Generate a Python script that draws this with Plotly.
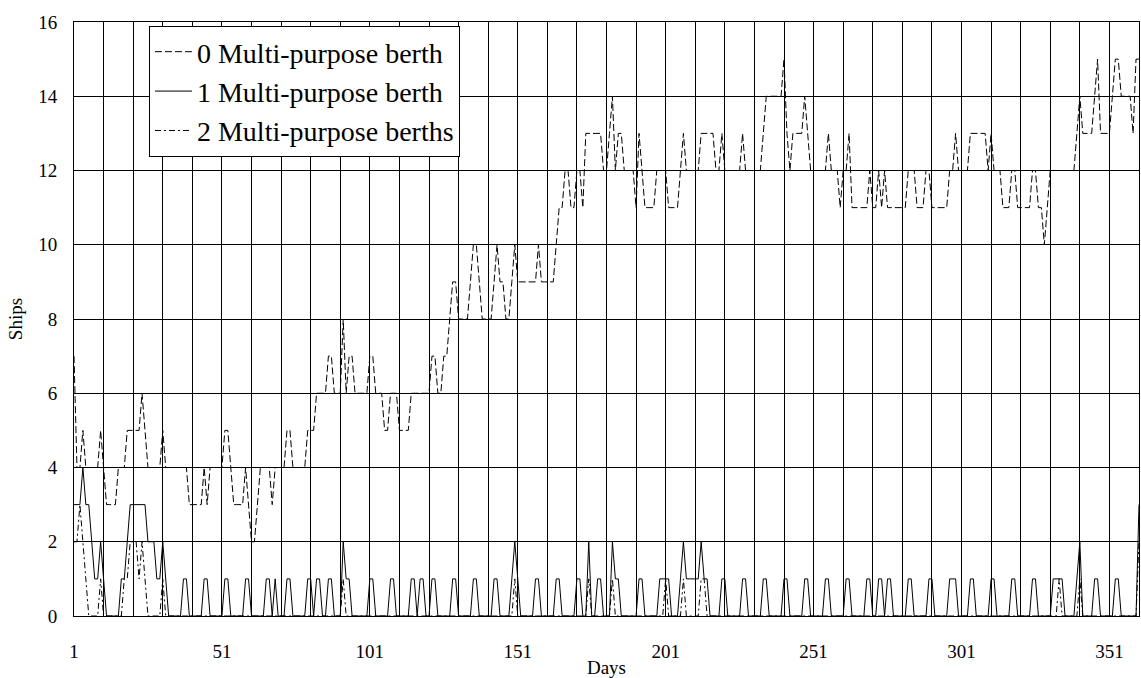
import plotly.graph_objects as go

days = list(range(1, 362))

berth0 = [
    7, 4, 4, 5, 4, 4, 4, 4, 4, 5,
    4, 3, 3, 3, 3, 4, 4, 4, 5, 5,
    5, 5, 5, 6, 5, 4, 4, 4, 4, 4,
    5, 4, 4, 4, 4, 4, 4, 4, 4, 3,
    3, 3, 3, 3, 4, 3, 4, 4, 4, 4,
    4, 5, 5, 4, 3, 3, 3, 3, 4, 3,
    2, 2, 3, 4, 4, 4, 4, 3, 4, 4,
    4, 4, 5, 5, 4, 4, 4, 4, 4, 5,
    5, 5, 6, 6, 6, 6, 7, 7, 6, 6,
    6, 8, 6, 7, 7, 6, 6, 6, 6, 6,
    7, 7, 6, 6, 6, 5, 5, 6, 6, 6,
    5, 5, 5, 5, 6, 6, 6, 6, 6, 6,
    6, 7, 7, 6, 6, 7, 7, 8, 9, 9,
    8, 8, 8, 8, 9, 10, 10, 9, 8, 8,
    8, 8, 9, 10, 9, 9, 8, 8, 9, 10,
    9, 9, 9, 9, 9, 9, 9, 10, 9, 9,
    9, 9, 9, 10, 11, 11, 12, 12, 11, 11,
    12, 12, 11, 13, 13, 13, 13, 13, 13, 12,
    12, 13, 14, 12, 13, 13, 12, 12, 12, 12,
    11, 13, 12, 11, 11, 11, 11, 12, 12, 12,
    12, 11, 11, 11, 11, 12, 13, 12, 12, 12,
    12, 12, 13, 13, 13, 13, 13, 12, 12, 13,
    12, 12, 12, 12, 12, 12, 13, 12, 12, 12,
    12, 12, 12, 13, 14, 14, 14, 14, 14, 14,
    15, 13, 12, 13, 13, 13, 13, 14, 13, 12,
    12, 12, 12, 12, 12, 13, 12, 12, 12, 11,
    12, 12, 13, 11, 11, 11, 11, 11, 11, 12,
    11, 11, 12, 11, 12, 11, 11, 11, 11, 11,
    11, 11, 12, 12, 12, 11, 11, 11, 12, 12,
    11, 11, 11, 11, 11, 11, 12, 12, 13, 12,
    12, 12, 12, 13, 13, 13, 13, 13, 13, 12,
    13, 12, 12, 12, 11, 11, 11, 12, 12, 11,
    11, 11, 11, 11, 12, 12, 11, 11, 10, 11,
    12, 12, 12, 12, 12, 12, 12, 12, 12, 13,
    14, 13, 13, 13, 13, 14, 15, 13, 13, 13,
    13, 14, 15, 15, 14, 14, 14, 14, 13, 15,
    15,
]

berth1 = [
    3, 3, 3, 4, 3, 3, 2, 1, 1, 2,
    1, 0, 0, 0, 0, 0, 1, 1, 2, 3,
    3, 3, 3, 3, 3, 2, 2, 2, 1, 1,
    2, 1, 0, 0, 0, 0, 0, 1, 1, 0,
    0, 0, 0, 0, 1, 1, 0, 0, 0, 0,
    0, 1, 1, 0, 0, 0, 0, 0, 1, 1,
    0, 0, 0, 0, 0, 1, 1, 0, 1, 0,
    0, 0, 1, 1, 0, 0, 0, 0, 0, 1,
    1, 0, 1, 1, 0, 0, 1, 1, 0, 0,
    0, 2, 1, 1, 0, 0, 0, 0, 0, 0,
    1, 1, 0, 0, 0, 0, 0, 1, 1, 0,
    0, 0, 0, 0, 1, 1, 0, 1, 1, 0,
    0, 1, 1, 0, 0, 0, 0, 0, 1, 1,
    0, 0, 0, 0, 0, 1, 1, 0, 0, 0,
    0, 0, 1, 1, 0, 0, 0, 0, 1, 2,
    1, 0, 0, 0, 0, 0, 1, 1, 0, 0,
    0, 0, 0, 1, 1, 0, 0, 0, 0, 0,
    1, 1, 0, 0, 2, 0, 0, 1, 1, 0,
    0, 0, 2, 1, 1, 0, 0, 0, 0, 0,
    0, 1, 1, 0, 0, 0, 0, 0, 1, 1,
    1, 1, 0, 0, 0, 1, 2, 1, 1, 1,
    1, 1, 2, 1, 1, 0, 0, 0, 0, 1,
    1, 0, 0, 0, 0, 0, 1, 1, 0, 0,
    0, 0, 0, 1, 1, 0, 0, 0, 0, 0,
    1, 1, 0, 0, 0, 0, 0, 1, 1, 0,
    0, 0, 0, 0, 1, 1, 0, 0, 0, 0,
    0, 1, 1, 0, 0, 0, 0, 0, 1, 1,
    0, 0, 1, 1, 0, 1, 1, 0, 0, 0,
    0, 0, 1, 1, 0, 0, 0, 0, 0, 1,
    1, 0, 0, 0, 0, 0, 1, 1, 1, 0,
    0, 0, 0, 1, 1, 0, 0, 0, 0, 0,
    1, 1, 0, 0, 0, 0, 0, 1, 1, 0,
    0, 0, 0, 0, 1, 1, 0, 0, 0, 0,
    0, 1, 1, 1, 1, 0, 0, 0, 0, 1,
    2, 0, 0, 0, 0, 1, 1, 0, 0, 0,
    0, 0, 1, 1, 0, 0, 0, 0, 0, 0,
    3,
]

berth2 = [
    2, 2, 3, 2, 1, 0, 0, 0, 0, 1,
    0, 0, 0, 0, 0, 0, 0, 1, 1, 2,
    2, 2, 1, 2, 1, 0, 0, 0, 0, 0,
    1, 0, 0, 0, 0, 0, 0, 0, 0, 0,
    0, 0, 0, 0, 0, 0, 0, 0, 0, 0,
    0, 0, 0, 0, 0, 0, 0, 0, 0, 0,
    0, 0, 0, 0, 0, 0, 0, 0, 0, 0,
    0, 0, 0, 0, 0, 0, 0, 0, 0, 0,
    0, 0, 0, 0, 0, 0, 0, 0, 0, 0,
    0, 1, 0, 0, 0, 0, 0, 0, 0, 0,
    0, 0, 0, 0, 0, 0, 0, 0, 0, 0,
    0, 0, 0, 0, 0, 0, 0, 0, 0, 0,
    0, 0, 0, 0, 0, 0, 0, 0, 0, 0,
    0, 0, 0, 0, 0, 0, 0, 0, 0, 0,
    0, 0, 0, 0, 0, 0, 0, 0, 0, 1,
    0, 0, 0, 0, 0, 0, 0, 0, 0, 0,
    0, 0, 0, 0, 0, 0, 0, 0, 0, 0,
    0, 0, 0, 0, 1, 0, 0, 0, 0, 0,
    0, 0, 1, 0, 0, 0, 0, 0, 0, 0,
    0, 0, 0, 0, 0, 0, 0, 0, 0, 0,
    1, 0, 0, 0, 0, 0, 1, 0, 0, 0,
    0, 0, 1, 1, 0, 0, 0, 0, 0, 0,
    0, 0, 0, 0, 0, 0, 0, 0, 0, 0,
    0, 0, 0, 0, 0, 0, 0, 0, 0, 0,
    0, 0, 0, 0, 0, 0, 0, 0, 0, 0,
    0, 0, 0, 0, 0, 0, 0, 0, 0, 0,
    0, 0, 0, 0, 0, 0, 0, 0, 0, 0,
    0, 0, 0, 0, 0, 0, 0, 0, 0, 0,
    0, 0, 0, 0, 0, 0, 0, 0, 0, 0,
    0, 0, 0, 0, 0, 0, 0, 0, 0, 0,
    0, 0, 0, 0, 0, 0, 0, 0, 0, 0,
    0, 0, 0, 0, 0, 0, 0, 0, 0, 0,
    0, 0, 0, 0, 0, 0, 0, 0, 0, 0,
    0, 0, 0, 1, 0, 0, 0, 0, 0, 0,
    1, 0, 0, 0, 0, 0, 0, 0, 0, 0,
    0, 0, 0, 0, 0, 0, 0, 0, 0, 0,
    2,
]

series_names = ["0 Multi-purpose berth", "1 Multi-purpose berth", "2 Multi-purpose berths"]
x_tick_start, x_tick_step, x_grid_step = 1, 50, 10
y_tick_step = 2

assert len(berth0) == len(berth1) == len(berth2) == len(days)

FONT = "Liberation Serif, Times New Roman, serif"

fig = go.Figure()
fig.add_trace(go.Scatter(x=days, y=berth0, mode="lines", name=series_names[0],
                         line=dict(color="black", width=1, dash="7px,3px")))
fig.add_trace(go.Scatter(x=days, y=berth1, mode="lines", name=series_names[1],
                         line=dict(color="black", width=1)))
fig.add_trace(go.Scatter(x=days, y=berth2, mode="lines", name=series_names[2],
                         line=dict(color="black", width=1, dash="6px,3px,2px,3px")))

fig.update_layout(
    width=1141, height=678,
    margin=dict(l=74, r=1, t=22, b=57),
    paper_bgcolor="white", plot_bgcolor="white",
    font=dict(family=FONT, color="black", size=19),
    showlegend=True,
    legend=dict(x=0.0704, y=0.9933, xanchor="left", yanchor="top",
                bgcolor="white", bordercolor="black", borderwidth=1,
                font=dict(family=FONT, size=28, color="black"),
                itemwidth=37, tracegroupgap=0),
)
fig.update_xaxes(
    range=[days[0], days[-1]], tick0=x_tick_start, dtick=x_tick_step,
    showgrid=True, gridcolor="black", gridwidth=1,
    minor=dict(tick0=x_tick_start, dtick=x_grid_step, showgrid=True, gridcolor="black", gridwidth=1),
    showline=True, linecolor="black", linewidth=1, mirror=True,
    ticks="", zeroline=False, ticklabelstandoff=18,
    tickfont=dict(family=FONT, size=19, color="black"),
    title=dict(text="Days", font=dict(family=FONT, size=19, color="black"), standoff=2),
)
fig.update_yaxes(
    range=[0, 16], tick0=0, dtick=y_tick_step,
    showgrid=True, gridcolor="black", gridwidth=1,
    showline=True, linecolor="black", linewidth=1, mirror=True,
    ticks="", zeroline=False, ticklabelstandoff=12,
    tickfont=dict(family=FONT, size=19, color="black"),
    title=dict(text="Ships", font=dict(family=FONT, size=19, color="black"), standoff=10),
)

fig.write_html("out.html")
